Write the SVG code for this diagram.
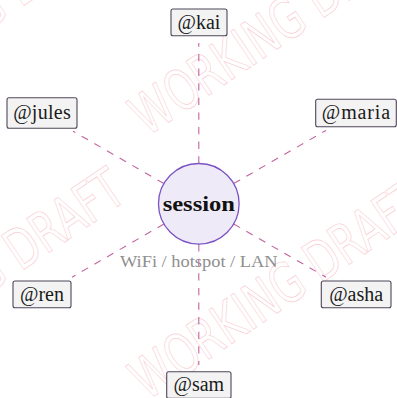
<svg xmlns="http://www.w3.org/2000/svg" xmlns:xlink="http://www.w3.org/1999/xlink" width="397" height="398" viewBox="0 0 397 398">
<style>
.wm{font-family:"DejaVu Sans",sans-serif;font-size:56px;fill:none;stroke:#f9cdd2;stroke-width:0.75}
.box{fill:#f3f3f3;stroke:#4f4658;stroke-width:1.1}
.lbl{font-family:"Liberation Serif",serif;font-size:20px;fill:#1a1a1a;text-anchor:middle}
.conn{stroke:#c2639e;stroke-width:1.1;stroke-dasharray:7.3 7.3;fill:none}
</style>
<defs>
<text id="wmt" class="wm" x="0" y="0" textLength="340" lengthAdjust="spacingAndGlyphs">WORKING DRAFT</text>
</defs>
<rect width="397" height="398" fill="#ffffff"/>
<g id="watermark">
<use xlink:href="#wmt" transform="translate(147,137) rotate(-34)"/>
<use xlink:href="#wmt" transform="translate(147,401) rotate(-34)"/>
<use xlink:href="#wmt" transform="translate(-153,389) rotate(-34)"/>
<use xlink:href="#wmt" transform="translate(-153,125) rotate(-34)"/>
</g>
<g id="connectors">
<line class="conn" x1="198.8" y1="163.5" x2="198.8" y2="43"/>
<line class="conn" x1="198.8" y1="244.1" x2="198.8" y2="365"/>
<line class="conn" x1="163.9" y1="183.6" x2="73" y2="131.2"/>
<line class="conn" x1="233.7" y1="183.6" x2="326" y2="130.4"/>
<line class="conn" x1="163.9" y1="224" x2="72" y2="277.2"/>
<line class="conn" x1="233.7" y1="224" x2="326" y2="277.2"/>
</g>
<g id="label">
<text x="198.8" y="266.7" font-family="Liberation Serif, serif" font-size="17.5" fill="#8f8f8f" text-anchor="middle" textLength="157.7" lengthAdjust="spacingAndGlyphs">WiFi / hotspot / LAN</text>
</g>
<g id="session">
<circle cx="198.8" cy="203.8" r="40.3" fill="#efeaf7" stroke="#7b52c4" stroke-width="1.3"/>
<text x="198.8" y="211" font-family="Liberation Serif, serif" font-size="22" font-weight="bold" fill="#111" text-anchor="middle" textLength="72.3" lengthAdjust="spacingAndGlyphs">session</text>
</g>
<g id="kai">
<rect class="box" x="171" y="9" width="56" height="26.7" rx="2"/>
<text class="lbl" x="199" y="28.5">@kai</text>
</g>
<g id="jules">
<rect class="box" x="7" y="97.7" width="70" height="30.6" rx="2"/>
<text class="lbl" x="42" y="118.5" textLength="57.7">@jules</text>
</g>
<g id="maria">
<rect class="box" x="315.7" y="99.3" width="80.6" height="27.4" rx="2"/>
<text class="lbl" x="356" y="119.2" textLength="68.3">@maria</text>
</g>
<g id="ren">
<rect class="box" x="13" y="281" width="58" height="26.7" rx="2"/>
<text class="lbl" x="42" y="300.5">@ren</text>
</g>
<g id="asha">
<rect class="box" x="321.3" y="281" width="69.7" height="26.7" rx="2"/>
<text class="lbl" x="356.2" y="300.5">@asha</text>
</g>
<g id="sam">
<rect class="box" x="166.7" y="371.7" width="64.3" height="26.7" rx="2"/>
<text class="lbl" x="198.8" y="391.4">@sam</text>
</g>
</svg>
